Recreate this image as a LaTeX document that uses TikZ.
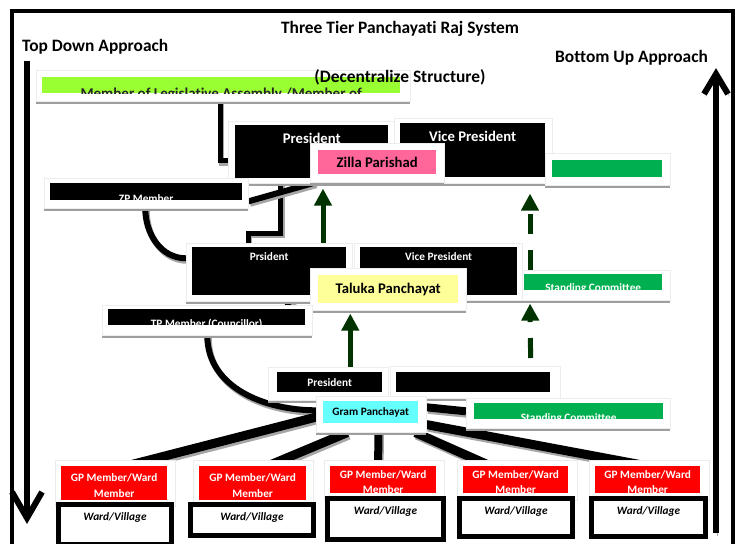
\documentclass[tikz,border=0pt]{standalone}
\usepackage{fontspec}
\setmainfont{Carlito}[Ligatures=NoCommon]
\usetikzlibrary{arrows.meta,shadows}

\definecolor{limebar}{HTML}{99FF33}
\definecolor{zpink}{HTML}{FF6699}
\definecolor{tyellow}{HTML}{FFFF99}
\definecolor{gcyan}{HTML}{66FFFF}
\definecolor{stgreen}{HTML}{00B050}
\definecolor{gpred}{HTML}{FF0000}
\definecolor{dkgreen}{HTML}{003300}

\pgfdeclarelayer{background}
\pgfsetlayers{background,main}

\begin{document}
\begin{tikzpicture}[x=1pt,y=-1pt,
  hdr/.style={font=\bfseries\fontsize{17.4}{20}\selectfont},
  midtxt/.style={font=\bfseries\fontsize{14.7}{17}\selectfont},
  smalltxt/.style={font=\bfseries\fontsize{11.3}{13}\selectfont},
  gptxt/.style={text=white, font=\bfseries\fontsize{11.3}{15.5}\selectfont},
  panel/.style={anchor=north west, inner sep=0pt, fill=white, draw=black!7, line width=0.6pt,
    drop shadow={shadow xshift=0pt, shadow yshift=-3pt, fill=black!38, opacity=1}},
  gppanel/.style={anchor=north west, inner sep=0pt, fill=white, draw=black!8, line width=0.6pt},
  bar/.style={anchor=north west, inner sep=0pt},
  blackbar/.style={bar, fill=black},
  toplab/.style={text=white, anchor=north, inner sep=#1},
  cuttext/.style n args={3}{path picture={\node[anchor=north, inner sep=0pt, align=center, #2]
    at ([yshift=-#1]path picture bounding box.north) {#3};}},
  ward/.style={anchor=north west, draw=black, fill=white, line width=5pt, inner sep=0pt,
    label={[anchor=north, inner sep=10.5pt, font=\bfseries\itshape\fontsize{11.3}{13}\selectfont]north:Ward/Village}},
  link/.style={draw, line width=#1, preaction={draw=black!35, line width=#1,
    transform canvas={xshift=1.5pt,yshift=-2.5pt}}},
  link/.default=5pt,
  upflow/.style={draw=dkgreen, line width=5pt, -{Triangle[width=17pt,length=17pt]}},
  dashflow/.style={dash pattern=on 20pt off 16pt},
  approach/.style={draw, line width=6pt, miter limit=10,
    preaction={draw=black!35, transform canvas={xshift=1.5pt,yshift=-2.5pt}}}]

\useasboundingbox (0,0) rectangle (738,543);

% frame and headings
\draw[line width=4.5pt] (12,560) |- (733,11) -- (733,560);
\node[hdr] (title) at (400,29) {Three Tier Panchayati Raj System};
\node[hdr, anchor=west, inner sep=0pt] (topdown) at (22,47) {Top Down Approach};
\node[hdr, anchor=west, inner sep=0pt] (bottomup) at (555,58) {Bottom Up Approach};

\coordinate (tdtop) at (27,61);
\coordinate (tdend) at (27,518);
\coordinate (bubot) at (716,533);
\coordinate (butop) at (716,74);
\draw[approach] (tdtop) -- (tdend);
\draw[approach] ([shift={(-15pt,26pt)}]tdend) -- (tdend) -- ([shift={(15pt,26pt)}]tdend);
\draw[approach] (bubot) -- (butop);
\draw[approach] ([shift={(-12pt,-20pt)}]butop) -- (butop) -- ([shift={(12pt,-20pt)}]butop);

% MLA
\node[panel, minimum width=374pt, minimum height=31pt] (mlaP) at (36,70) {};
\node[bar, fill=limebar, minimum width=358pt, minimum height=16pt,
  cuttext={9pt}{text=black!85, font=\bfseries\fontsize{15}{17}\selectfont}{Member of Legislative Assembly /Member of}] (mla) at (42,77) {};
\node[hdr] (decent) at (400,77) {(Decentralize Structure)};

% Zilla tier
\node[panel, minimum width=166pt, minimum height=62pt] (zpresP) at (228,121) {};
\node[blackbar, minimum width=153pt, minimum height=53pt, label={[toplab=7.5pt, midtxt]north:President}] (zpres) at (235,125) {};
\node[panel, minimum width=158pt, minimum height=65pt] (zvpP) at (394,118) {};
\node[blackbar, minimum width=145pt, minimum height=54pt, label={[toplab=7.5pt, midtxt]north:Vice President}] (zvp) at (400,123) {};
\node[panel, minimum width=125pt, minimum height=32pt] (zscP) at (545,153) {};
\node[bar, fill=stgreen, minimum width=110pt, minimum height=17pt] (zsc) at (552,160) {};
\node[panel, minimum width=134pt, minimum height=39pt] (zilP) at (310,143) {};
\node[bar, fill=zpink, minimum width=118pt, minimum height=24pt, midtxt] (zil) at (318,150) {Zilla Parishad};
\node[panel, minimum width=204pt, minimum height=30pt] (zpmP) at (44,178) {};
\node[blackbar, minimum width=192pt, minimum height=17pt, cuttext={7pt}{smalltxt, text=white}{ZP Member}] (zpm) at (50,183) {};

% Taluka tier
\node[panel, minimum width=166pt, minimum height=58pt] (tpresP) at (186,243) {};
\node[blackbar, minimum width=154pt, minimum height=48pt, label={[toplab=5.5pt, smalltxt]north:Prsident}] (tpres) at (192,247) {};
\node[panel, minimum width=168pt, minimum height=57pt] (tvpP) at (354,243) {};
\node[blackbar, minimum width=157pt, minimum height=48pt, label={[toplab=5.5pt, smalltxt]north:Vice President}] (tvp) at (360,247) {};
\node[panel, minimum width=148pt, minimum height=30pt] (tscP) at (522,270) {};
\node[bar, fill=stgreen, minimum width=138pt, minimum height=16pt, cuttext={6pt}{smalltxt, text=white}{Standing Committee}] (tsc) at (524,274) {};
\node[panel, minimum width=156pt, minimum height=42pt] (talP) at (310,268) {};
\node[bar, fill=tyellow, minimum width=140pt, minimum height=28pt, midtxt] (tal) at (318,275) {Taluka Panchayat};
\node[panel, minimum width=210pt, minimum height=30pt] (tpmP) at (102,305) {};
\node[blackbar, minimum width=197pt, minimum height=16pt, cuttext={7pt}{smalltxt, text=white}{TP Member (Councillor)}] (tpm) at (108,309) {};

% Gram tier
\node[panel, minimum width=120pt, minimum height=33pt] (gpresP) at (268,367) {};
\node[blackbar, minimum width=105pt, minimum height=20pt, smalltxt, text=white] (gpres) at (277,372) {President};
\node[panel, minimum width=170pt, minimum height=32pt] (gvpP) at (390,366) {};
\node[blackbar, minimum width=154pt, minimum height=20pt] (gvp) at (396,372) {};
\node[panel, minimum width=204pt, minimum height=30pt] (gscP) at (466,398) {};
\node[bar, fill=stgreen, minimum width=189pt, minimum height=16pt, cuttext={7pt}{smalltxt, text=white}{Standing Committee}] (gsc) at (474,403) {};
\node[panel, minimum width=110pt, minimum height=36pt] (gramP) at (316,396) {};
\node[bar, fill=gcyan, minimum width=95pt, minimum height=22pt, smalltxt] (gram) at (323,401) {Gram Panchayat};

% GP members and wards
\node[gppanel, minimum width=120pt, minimum height=46pt] (gpm1P) at (55,460) {};
\node[gppanel, minimum width=120pt, minimum height=46pt] (gpm2P) at (193,460) {};
\node[gppanel, minimum width=120pt, minimum height=40pt] (gpm3P) at (324,460) {};
\node[gppanel, minimum width=120pt, minimum height=40pt] (gpm4P) at (457,460) {};
\node[gppanel, minimum width=120pt, minimum height=40pt] (gpm5P) at (589,460) {};
\node[bar, fill=gpred, minimum width=106pt, minimum height=34pt, cuttext={2pt}{gptxt}{GP Member/Ward\\Member}] (gpm1) at (61,466) {};
\node[bar, fill=gpred, minimum width=107pt, minimum height=34pt, cuttext={2pt}{gptxt}{GP Member/Ward\\Member}] (gpm2) at (199,466) {};
\node[bar, fill=gpred, minimum width=106pt, minimum height=27pt, cuttext={2pt}{gptxt}{GP Member/Ward\\Member}] (gpm3) at (330,466) {};
\node[bar, fill=gpred, minimum width=105pt, minimum height=27pt, cuttext={2pt}{gptxt}{GP Member/Ward\\Member}] (gpm4) at (463,466) {};
\node[bar, fill=gpred, minimum width=105pt, minimum height=27pt, cuttext={2pt}{gptxt}{GP Member/Ward\\Member}] (gpm5) at (595,466) {};
\node[ward, minimum width=113pt, minimum height=40pt] (ward1) at (56,502) {};
\node[ward, minimum width=123pt, minimum height=31pt] (ward2) at (188,502) {};
\node[ward, minimum width=116pt, minimum height=41pt] (ward3) at (325,496) {};
\node[ward, minimum width=113pt, minimum height=38pt] (ward4) at (457,496) {};
\node[ward, minimum width=114pt, minimum height=38pt] (ward5) at (589,496) {};

% connectors, behind the boxes
\begin{pgfonlayer}{background}
\draw[link] ([xshift=-3pt]mlaP.south) |- ([yshift=-9pt]zpres.west);
\draw[link] ([xshift=-31pt]zpres.south) -- ++(0,55) -| ([xshift=-21pt]tpresP.north);
\draw[link=6pt] ([yshift=-8pt]zpmP.east) -- ([xshift=5pt]zilP.south west);
\draw[link=6pt] ([xshift=-1pt]zpmP.south) to[out=-90,in=180] ([yshift=14pt]tpresP.west);
\draw[link] ([xshift=78pt]tpmP.north) -- (talP.west);
\draw[link=6pt] (tpmP.south) to[out=-90,in=180] ([yshift=4pt]gramP.west);
\draw[link=8pt] ([yshift=7pt]gramP.east) -- ([yshift=2pt]gscP.west);
\draw[link=9pt] ([shift={(2pt,16pt)}]gramP.south west) -- ([xshift=4pt,yshift=-2pt]gpm1.north);
\draw[link=9pt] ([xshift=-24pt]gramP.south) -- ([xshift=10pt,yshift=-2pt]gpm2.north);
\draw[link=8pt] ([xshift=7pt]gramP.south) -- ([xshift=-5pt]gpm3.north);
\draw[link=9pt] ([xshift=44pt]gramP.south) -- ([xshift=-25pt]gpm4.north);
\draw[link=9pt] ([yshift=8pt]gramP.south east) -- (gpm5.north);

\draw[upflow, shorten >=6pt] ([xshift=13pt]talP.north west) -- ([xshift=13pt]zilP.south west);
\draw[upflow, shorten >=3pt] ([xshift=-21pt]gramP.north) -- ([xshift=-38pt]talP.south);
\draw[upflow, dashflow, shorten >=3pt] ([shift={(-30pt,8pt)}]gvpP.north east) -- ([xshift=8pt]tscP.south west);
\draw[upflow, dashflow, shorten >=8pt] ([xshift=8pt]tscP.north west) -- ([xshift=-15pt]zscP.south west);
\end{pgfonlayer}
\end{tikzpicture}
\end{document}
